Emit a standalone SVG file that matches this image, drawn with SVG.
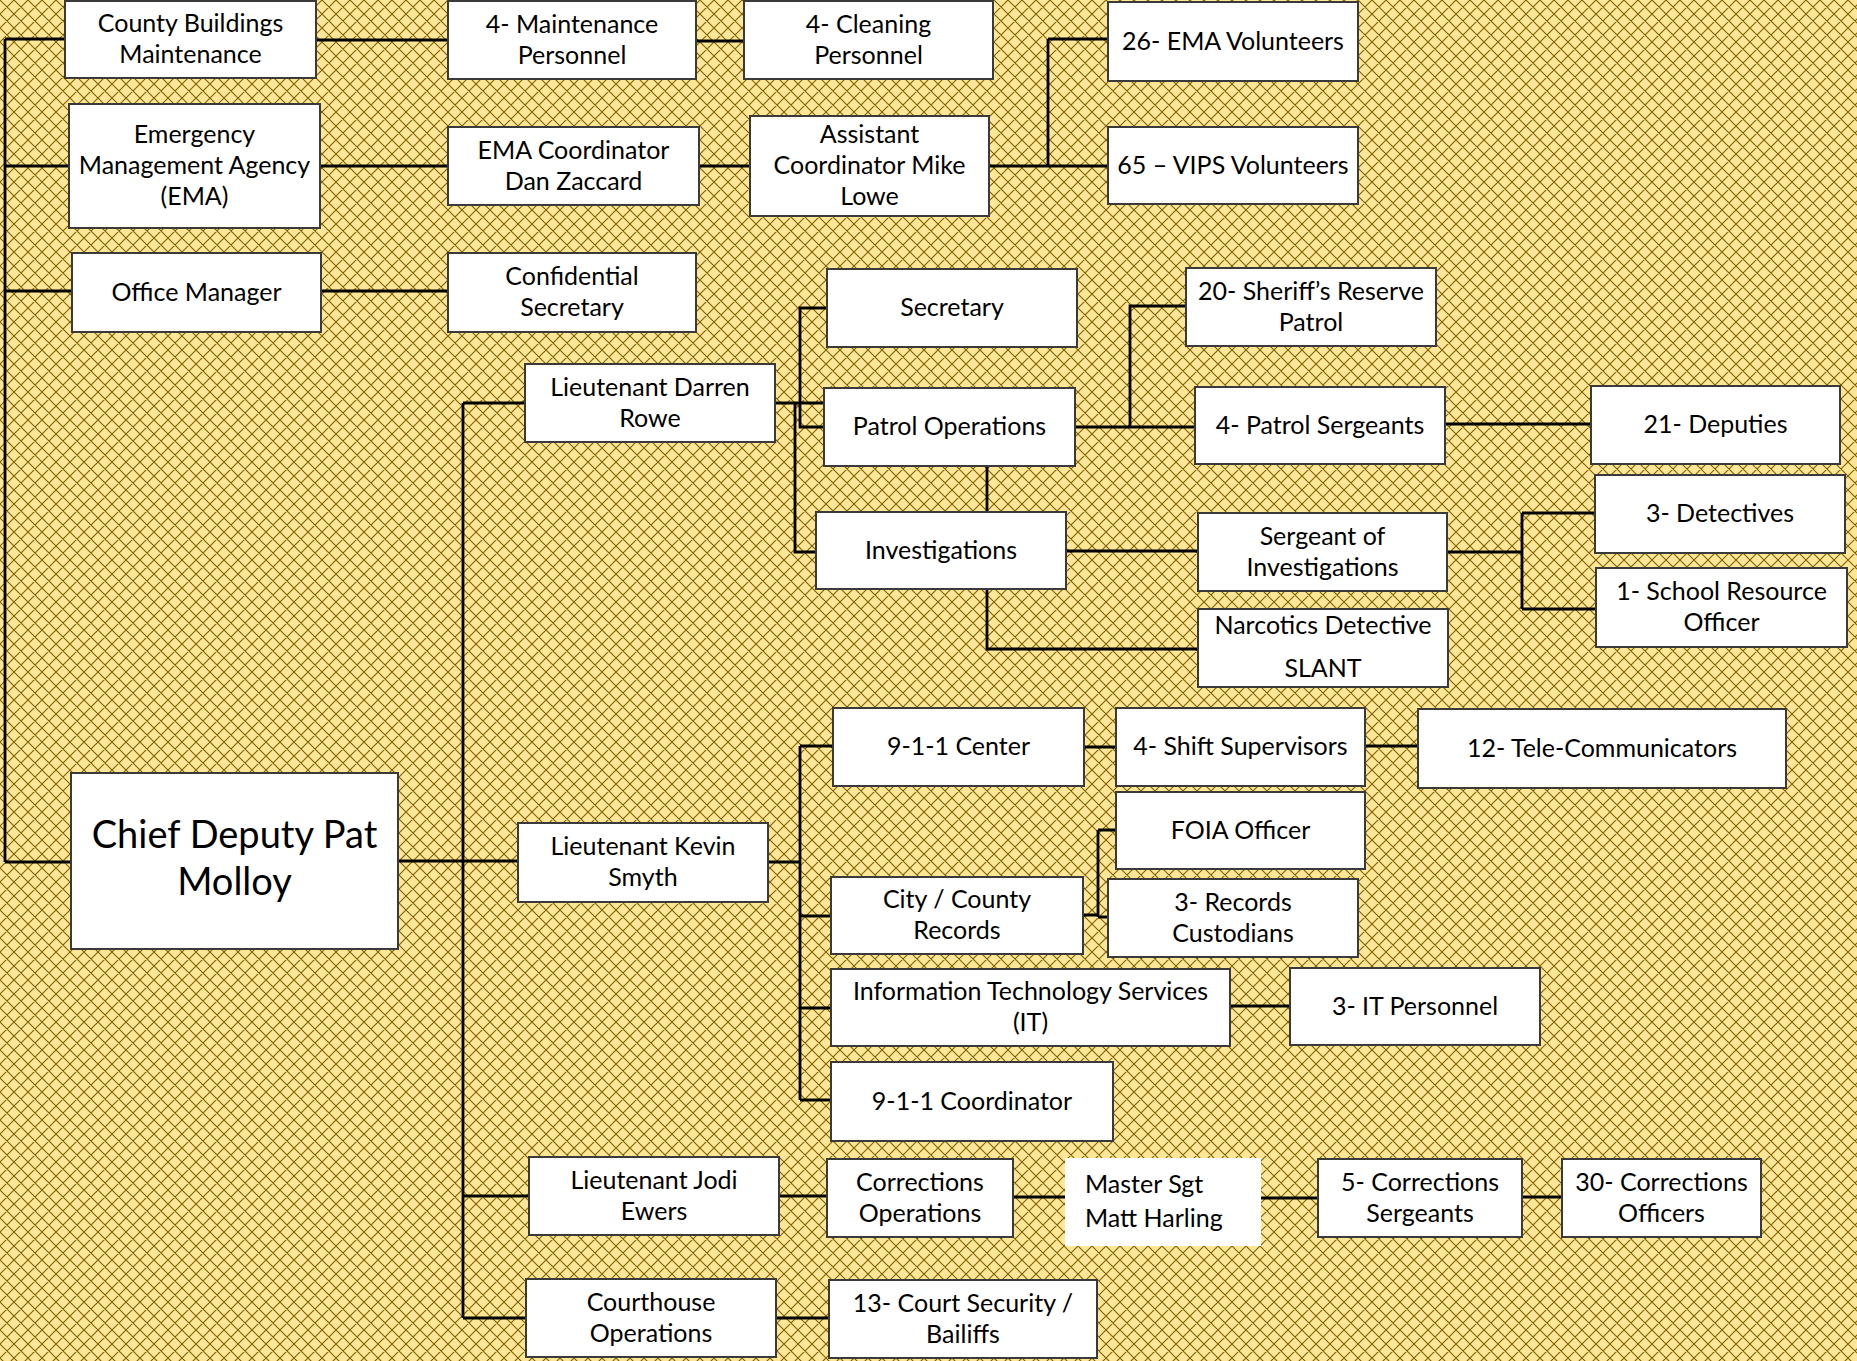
<svg xmlns="http://www.w3.org/2000/svg" width="1857" height="1361" viewBox="0 0 1857 1361">
<defs>
<pattern id="bg" width="14" height="14" patternUnits="userSpaceOnUse">
<rect width="14" height="14" fill="#FFE699"/>
<path d="M-2,-2 L16,16 M-2,12 L2,16 M12,-2 L16,2 M-2,16 L16,-2 M-2,2 L2,-2 M12,16 L16,12" stroke="#7F6000" stroke-width="1.1"/>
</pattern>
<style>
.box{fill:#fff;stroke:#3a3a3a;stroke-width:2}
.t{font-family:Lato,"Open Sans",sans-serif;font-size:25px;fill:#000;text-anchor:middle}
.big{font-size:38px}
.l{text-anchor:start}
.c{fill:none;stroke:#000;stroke-width:2.8}
</style>
</defs>
<rect width="1857" height="1361" fill="url(#bg)"/>
<g id="connectors" class="c">
<path d="M5,39 V862 M5,39 H65 M5,166 H69 M5,291 H72 M5,862 H71"/>
<path d="M316,40 H448 M696,41 H744"/>
<path d="M320,166 H448 M699,166 H750"/>
<path d="M989,166 H1048 M1048,39 V166 M1048,39 H1108 M1048,166 H1108"/>
<path d="M321,291 H448"/>
<path d="M398,861 H463 M463,403 V1318 M463,403 H525 M463,861 H518 M463,1196 H529 M463,1318 H526"/>
<path d="M775,403 H824 M800,403 V308 H827 M800,403 V427 H824 M795,403 V552 H816"/>
<path d="M1075,427 H1195 M1130,427 V306 H1186"/>
<path d="M987,466 V512 M987,589 V649 H1198"/>
<path d="M1066,551 H1198"/>
<path d="M1445,424 H1591"/>
<path d="M1447,552 H1522 M1522,513 V609 M1522,513 H1595 M1522,609 H1596"/>
<path d="M768,862 H800 M800,746 V1100 M800,746 H833 M800,916 H831 M800,1008 H831 M800,1100 H831"/>
<path d="M1084,747 H1116 M1365,746 H1418"/>
<path d="M1083,915 H1098 M1098,830 V917 M1098,830 H1116 M1098,917 H1108"/>
<path d="M1230,1006 H1290"/>
<path d="M779,1196 H827 M1013,1197 H1065 M1261,1198 H1318 M1522,1197 H1562"/>
<path d="M776,1318 H829"/>
</g>
<g id="county-buildings"><rect class="box" x="65" y="1" width="251" height="77"/><text class="t" x="190.5" y="32">County Buildings</text><text class="t" x="190.5" y="63">Maintenance</text></g>
<g id="maint-personnel"><rect class="box" x="448" y="1" width="248" height="78"/><text class="t" x="572" y="32.5">4- Maintenance</text><text class="t" x="572" y="63.5">Personnel</text></g>
<g id="cleaning-personnel"><rect class="box" x="744" y="1" width="249" height="78"/><text class="t" x="868.5" y="32.5">4- Cleaning</text><text class="t" x="868.5" y="63.5">Personnel</text></g>
<g id="ema-volunteers"><rect class="box" x="1108" y="2" width="250" height="79"/><text class="t" x="1233" y="49.5">26- EMA Volunteers</text></g>
<g id="ema"><rect class="box" x="69" y="104" width="251" height="124"/><text class="t" x="194.5" y="143">Emergency</text><text class="t" x="194.5" y="174">Management Agency</text><text class="t" x="194.5" y="205">(EMA)</text></g>
<g id="ema-coord"><rect class="box" x="448" y="127" width="251" height="78"/><text class="t" x="573.5" y="158.5">EMA Coordinator</text><text class="t" x="573.5" y="189.5">Dan Zaccard</text></g>
<g id="asst-coord"><rect class="box" x="750" y="116" width="239" height="100"/><text class="t" x="869.5" y="143">Assistant</text><text class="t" x="869.5" y="174">Coordinator Mike</text><text class="t" x="869.5" y="205">Lowe</text></g>
<g id="vips"><rect class="box" x="1108" y="127" width="250" height="77"/><text class="t" x="1233" y="173.5">65 – VIPS Volunteers</text></g>
<g id="office-manager"><rect class="box" x="72" y="253" width="249" height="79"/><text class="t" x="196.5" y="300.5">Office Manager</text></g>
<g id="conf-secretary"><rect class="box" x="448" y="253" width="248" height="79"/><text class="t" x="572" y="285">Confidential</text><text class="t" x="572" y="316">Secretary</text></g>
<g id="secretary"><rect class="box" x="827" y="269" width="250" height="78"/><text class="t" x="952" y="316">Secretary</text></g>
<g id="reserve-patrol"><rect class="box" x="1186" y="268" width="250" height="78"/><text class="t" x="1311" y="299.5">20- Sheriff’s Reserve</text><text class="t" x="1311" y="330.5">Patrol</text></g>
<g id="lt-rowe"><rect class="box" x="525" y="364" width="250" height="78"/><text class="t" x="650" y="395.5">Lieutenant Darren</text><text class="t" x="650" y="426.5">Rowe</text></g>
<g id="patrol-ops"><rect class="box" x="824" y="388" width="251" height="78"/><text class="t" x="949.5" y="435">Patrol Operations</text></g>
<g id="patrol-sgts"><rect class="box" x="1195" y="387" width="250" height="77"/><text class="t" x="1320" y="433.5">4- Patrol Sergeants</text></g>
<g id="deputies"><rect class="box" x="1591" y="386" width="249" height="78"/><text class="t" x="1715.5" y="433">21- Deputies</text></g>
<g id="investigations"><rect class="box" x="816" y="512" width="250" height="77"/><text class="t" x="941" y="558.5">Investigations</text></g>
<g id="sgt-investigations"><rect class="box" x="1198" y="513" width="249" height="78"/><text class="t" x="1322.5" y="544.5">Sergeant of</text><text class="t" x="1322.5" y="575.5">Investigations</text></g>
<g id="detectives"><rect class="box" x="1595" y="475" width="250" height="78"/><text class="t" x="1720" y="522">3- Detectives</text></g>
<g id="sro"><rect class="box" x="1596" y="568" width="251" height="79"/><text class="t" x="1721.5" y="600">1- School Resource</text><text class="t" x="1721.5" y="631">Officer</text></g>
<g id="narcotics"><rect class="box" x="1198" y="609" width="250" height="78"/><text class="t" x="1323" y="634">Narcotics Detective</text><text class="t" x="1323" y="677">SLANT</text></g>
<g id="chief-deputy"><rect class="box" x="71" y="773" width="327" height="176"/><text class="t big" x="234.5" y="848">Chief Deputy Pat</text><text class="t big" x="234.5" y="895">Molloy</text></g>
<g id="center-911"><rect class="box" x="833" y="708" width="251" height="78"/><text class="t" x="958.5" y="755">9-1-1 Center</text></g>
<g id="shift-supervisors"><rect class="box" x="1116" y="708" width="249" height="78"/><text class="t" x="1240.5" y="755">4- Shift Supervisors</text></g>
<g id="telecommunicators"><rect class="box" x="1418" y="709" width="368" height="79"/><text class="t" x="1602" y="756.5">12- Tele-Communicators</text></g>
<g id="foia"><rect class="box" x="1116" y="792" width="249" height="77"/><text class="t" x="1240.5" y="838.5">FOIA Officer</text></g>
<g id="lt-smyth"><rect class="box" x="518" y="823" width="250" height="79"/><text class="t" x="643" y="855">Lieutenant Kevin</text><text class="t" x="643" y="886">Smyth</text></g>
<g id="city-county-records"><rect class="box" x="831" y="877" width="252" height="77"/><text class="t" x="957" y="908">City / County</text><text class="t" x="957" y="939">Records</text></g>
<g id="records-custodians"><rect class="box" x="1108" y="879" width="250" height="78"/><text class="t" x="1233" y="910.5">3- Records</text><text class="t" x="1233" y="941.5">Custodians</text></g>
<g id="it-services"><rect class="box" x="831" y="969" width="399" height="77"/><text class="t" x="1030.5" y="1000">Information Technology Services</text><text class="t" x="1030.5" y="1031">(IT)</text></g>
<g id="it-personnel"><rect class="box" x="1290" y="968" width="250" height="77"/><text class="t" x="1415" y="1014.5">3- IT Personnel</text></g>
<g id="coordinator-911"><rect class="box" x="831" y="1062" width="282" height="79"/><text class="t" x="972" y="1109.5">9-1-1 Coordinator</text></g>
<g id="lt-ewers"><rect class="box" x="529" y="1157" width="250" height="78"/><text class="t" x="654" y="1188.5">Lieutenant Jodi</text><text class="t" x="654" y="1219.5">Ewers</text></g>
<g id="corrections-ops"><rect class="box" x="827" y="1159" width="186" height="78"/><text class="t" x="920" y="1190.5">Corrections</text><text class="t" x="920" y="1221.5">Operations</text></g>
<g id="master-sgt"><rect x="1065" y="1158" width="196" height="88" fill="#fff"/><text class="t l" x="1085" y="1193">Master Sgt</text><text class="t l" x="1085" y="1227">Matt Harling</text></g>
<g id="corrections-sgts"><rect class="box" x="1318" y="1159" width="204" height="78"/><text class="t" x="1420" y="1190.5">5- Corrections</text><text class="t" x="1420" y="1221.5">Sergeants</text></g>
<g id="corrections-officers"><rect class="box" x="1562" y="1159" width="199" height="78"/><text class="t" x="1661.5" y="1190.5">30- Corrections</text><text class="t" x="1661.5" y="1221.5">Officers</text></g>
<g id="courthouse-ops"><rect class="box" x="526" y="1279" width="250" height="78"/><text class="t" x="651" y="1310.5">Courthouse</text><text class="t" x="651" y="1341.5">Operations</text></g>
<g id="court-security"><rect class="box" x="829" y="1280" width="268" height="78"/><text class="t" x="963" y="1311.5">13- Court Security /</text><text class="t" x="963" y="1342.5">Bailiffs</text></g>
</svg>
